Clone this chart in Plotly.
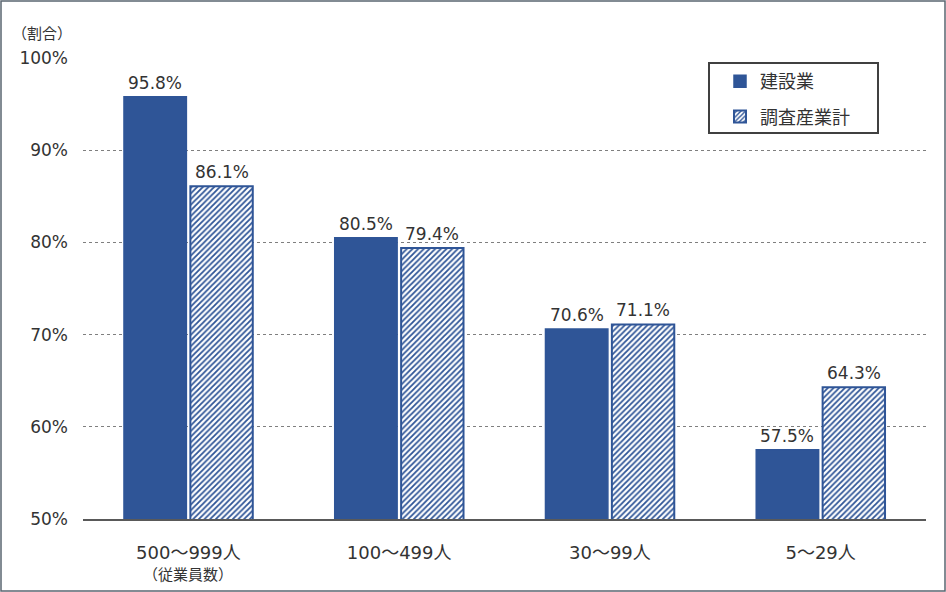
import plotly.graph_objects as go

categories = ['500～999人', '100～499人', '30～99人', '5～29人']
kensetsu = [95.8, 80.5, 70.6, 57.5]
chousa = [86.1, 79.4, 71.1, 64.3]
y_ticks = [50, 60, 70, 80, 90, 100]
y_labels = ['50%', '60%', '70%', '80%', '90%', '100%']

blue = '#2F5597'
txt = '#333333'
font_main = 'DejaVu Sans, Noto Sans CJK JP'
font_jp = 'Noto Sans CJK JP'

W, H = 946, 592
L, R, T, B = 83, 20, 58, 73
pw, ph = W - L - R, H - T - B
bargap, bargroupgap = 0.37, 0.06
# 各カテゴリ内での棒の中心のずれ(px)
slot = pw / len(categories) * (1 - bargap) / 2
shift = slot / 2


def px_x(v):
    return (v - L) / pw


def px_y(v):
    return 1 - (v - T) / ph


fig = go.Figure()

fig.add_trace(go.Bar(
    x=categories, y=kensetsu, name='建設業', legendgroup='a',
    marker=dict(color=blue, line=dict(color=blue, width=1.5)),
))
fig.add_trace(go.Bar(
    x=categories, y=chousa, name='調査産業計', legendgroup='b',
    marker=dict(color='white', line=dict(color=blue, width=2),
                pattern=dict(shape='/', fgcolor=blue, bgcolor='white',
                             fgopacity=1, size=4, solidity=0.45)),
))

# データラベル
for vals, dx in [(kensetsu, -shift), (chousa, shift)]:
    for c, v in zip(categories, vals):
        fig.add_annotation(text=f'{v:.1f}%', x=c, y=v, xref='x', yref='y',
                           xshift=dx, yshift=2, xanchor='center', yanchor='bottom',
                           showarrow=False, font=dict(size=17, color=txt))

# 外枠
fig.add_shape(type='rect', xref='paper', yref='paper',
              x0=px_x(1), x1=px_x(W - 1), y0=px_y(H - 1), y1=px_y(1),
              line=dict(color='#5A6570', width=1.5), layer='below')
# 凡例の枠
fig.add_shape(type='rect', xref='paper', yref='paper',
              x0=px_x(709), x1=px_x(878), y0=px_y(133), y1=px_y(63),
              line=dict(color='#404040', width=2), fillcolor='white', layer='below')

fig.add_annotation(text='（割合）', xref='paper', yref='paper',
                   x=px_x(10), y=px_y(32), xanchor='left', yanchor='middle',
                   showarrow=False, font=dict(size=15, color=txt, family=font_jp))
fig.add_annotation(text='（従業員数）', xref='x', yref='paper',
                   x=categories[0], y=px_y(573), xanchor='center', yanchor='middle',
                   showarrow=False, font=dict(size=15, color=txt, family=font_jp))

fig.update_layout(
    width=W, height=H,
    margin=dict(l=L, r=R, t=T, b=B),
    paper_bgcolor='white', plot_bgcolor='white',
    font=dict(family=font_main, size=16, color=txt),
    barmode='group', bargap=bargap, bargroupgap=bargroupgap,
    showlegend=True,
    legend=dict(x=px_x(720), y=px_y(63), xanchor='left', yanchor='top',
                borderwidth=0, bgcolor='rgba(0,0,0,0)',
                font=dict(size=18, color=txt),
                itemwidth=30, tracegroupgap=9),
    xaxis=dict(showline=True, linecolor='#595959', linewidth=2,
               ticks='', tickfont=dict(size=18), ticklabelstandoff=16),
    yaxis=dict(range=[50, 100], tickvals=y_ticks, ticktext=y_labels,
               showgrid=True, gridcolor='#7F7F7F', griddash='3px,3px', gridwidth=1,
               zeroline=False, ticks='', tickfont=dict(size=17),
               ticklabelstandoff=14),
)

fig.write_html('out.html', config={'displayModeBar': False},
               post_script="document.body.style.margin='0';")
